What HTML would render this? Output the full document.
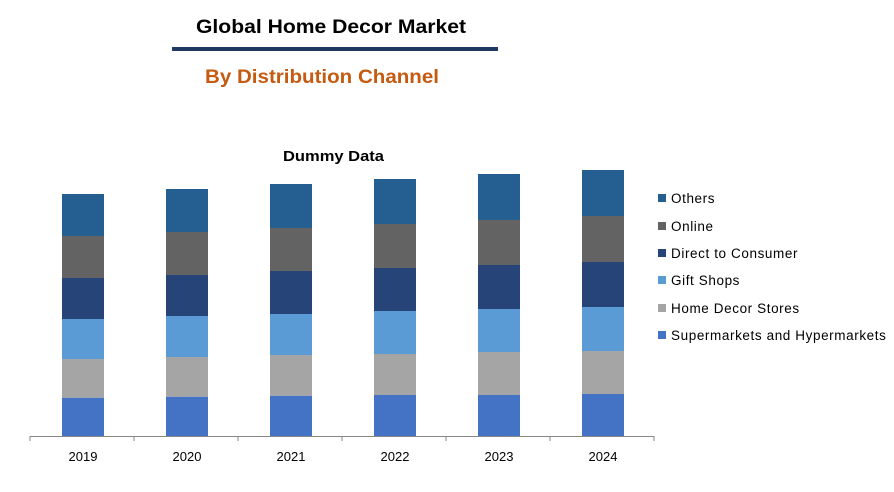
<!DOCTYPE html>
<html><head><meta charset="utf-8"><style>
body{margin:0;width:894px;height:492px;background:#fff;overflow:hidden;font-family:"Liberation Sans",sans-serif}
svg{display:block}
</style></head><body>
<svg width="894" height="492">
<text x="331" y="33" text-anchor="middle" font-size="19" font-weight="bold" fill="#000" textLength="270" lengthAdjust="spacingAndGlyphs">Global Home Decor Market</text>
<rect x="172" y="47" width="326" height="4" fill="#1f3864"/>
<text x="322" y="83" text-anchor="middle" font-size="19" font-weight="bold" fill="#c55a11" textLength="234" lengthAdjust="spacingAndGlyphs">By Distribution Channel</text>
<text x="333.5" y="161" text-anchor="middle" font-size="15" font-weight="bold" fill="#000" textLength="101" lengthAdjust="spacingAndGlyphs">Dummy Data</text>
<g id="plot"></g>
<g id="legend"></g>
</svg>
<script>
const categories=["2019","2020","2021","2022","2023","2024"];
const seriesNames=["Supermarkets and Hypermarkets","Home Decor Stores","Gift Shops","Direct to Consumer","Online","Others"];
const supermarkets=[38.3,39.3,40.3,41,41,42];
const homeDecor=[38.7,39.7,40.7,41,43,43];
const giftShops=[40,41,41,43,43,44];
const directConsumer=[41,41,43,43,44,45];
const online=[42,43,43,44,45,46];
const others=[42,43,44,45,46,46];
const series=[supermarkets,homeDecor,giftShops,directConsumer,online,others];
const colors=["#4472c4","#a5a5a5","#5b9bd5","#264478","#636363","#255e91"];
const NS="http://www.w3.org/2000/svg";
const x0=30,x1=654,base=436,barW=42;
const band=(x1-x0)/categories.length;
const xC=i=>x0+band*(i+0.5)+1;
const yS=v=>v*1;
const plot=document.getElementById('plot');
function mk(t,a){const e=document.createElementNS(NS,t);for(const k in a)e.setAttribute(k,a[k]);return e;}
categories.forEach((c,i)=>{
  let cum=0;
  series.forEach((s,j)=>{
    const h=yS(s[i]);
    const r=mk('rect',{x:xC(i)-barW/2,y:base-cum-h,width:barW,height:h,fill:colors[j]});
    
    
    plot.appendChild(r);cum+=h;
  });
  const t=mk('text',{x:xC(i),y:461,'text-anchor':'middle','font-size':13,fill:'#000'});
  t.textContent=c;
  
  
  plot.appendChild(t);
});
const ax=mk('line',{x1:x0,x2:x1,y1:base+0.5,y2:base+0.5,stroke:'#868686','stroke-width':1});


plot.appendChild(ax);
for(let i=0;i<=categories.length;i++){
  const tk=mk('line',{x1:x0+band*i,x2:x0+band*i,y1:base,y2:base+5,stroke:'#868686'});
  
  
  plot.appendChild(tk);
}
const lg=document.getElementById('legend');
const rowsY=[198,226,253,280,308,335];
for(let k=0;k<6;k++){
  const j=5-k;
  const g=mk('g',{});
  
  
  g.appendChild(mk('rect',{x:658,y:rowsY[k]-4,width:8,height:8,fill:colors[j]}));
  const t=mk('text',{x:671,y:rowsY[k]+5,'font-size':13.5,fill:'#000','letter-spacing':'0.6'});
  t.textContent=seriesNames[j];
  g.appendChild(t);
  lg.appendChild(g);
}
</script>
</body></html>
